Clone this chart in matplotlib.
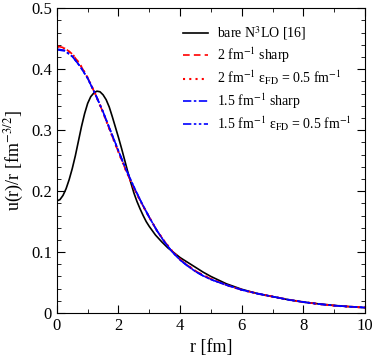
import numpy as np
import matplotlib
matplotlib.use("Agg")
import matplotlib.pyplot as plt

plt.rcParams['font.family'] = ['Liberation Serif', 'DejaVu Serif']
plt.rcParams['mathtext.fontset'] = 'stix'

# Werte
r_bare = [0, 0.1, 0.2, 0.3, 0.4, 0.5, 0.6, 0.7, 0.8, 0.9, 1.0, 1.1, 1.2, 1.3, 1.4,
          1.5, 1.6, 1.7, 1.8, 1.9, 2.0, 2.1, 2.2, 2.3, 2.4, 2.5, 2.6, 2.7, 2.8, 2.9,
          3.0, 3.2, 3.4, 3.6, 3.8, 4.0, 4.25, 4.5, 4.75, 5.0, 5.5, 6.0, 6.5, 7.0,
          7.5, 8.0, 8.5, 9.0, 9.5, 10.0]
u_bare = [0.184, 0.186, 0.193, 0.204, 0.219, 0.237, 0.258, 0.282, 0.306, 0.327,
          0.344, 0.355, 0.361, 0.364, 0.363, 0.358, 0.350, 0.338, 0.322, 0.305,
          0.288, 0.270, 0.251, 0.232, 0.214, 0.197, 0.183, 0.171, 0.160, 0.150,
          0.142, 0.128, 0.117, 0.107, 0.099, 0.091, 0.083, 0.075, 0.067, 0.060,
          0.048, 0.039, 0.032, 0.027, 0.022, 0.018, 0.015, 0.0125, 0.0105, 0.0088]

r_lam = [0, 0.25, 0.5, 0.75, 1.0, 1.25, 1.5, 1.75, 2.0, 2.25, 2.5, 2.75, 3.0, 3.25,
         3.5, 3.75, 4.0, 4.25, 4.5, 4.75, 5.0, 5.5, 6.0, 6.5, 7.0, 7.5, 8.0, 8.5,
         9.0, 9.5, 10.0]
u_2_sharp = [0.438, 0.435, 0.425, 0.408, 0.386, 0.359, 0.329, 0.296, 0.264, 0.233,
             0.205, 0.180, 0.157, 0.135, 0.117, 0.101, 0.088, 0.078, 0.069, 0.062,
             0.056, 0.046, 0.038, 0.032, 0.027, 0.022, 0.018, 0.0148, 0.0122,
             0.0105, 0.009]
u_2_fd = [0.437, 0.434, 0.425, 0.408, 0.386, 0.359, 0.329, 0.296, 0.264, 0.233,
          0.205, 0.180, 0.157, 0.135, 0.117, 0.101, 0.088, 0.078, 0.069, 0.062,
          0.056, 0.046, 0.038, 0.032, 0.027, 0.022, 0.018, 0.0148, 0.0122,
          0.0105, 0.009]
u_15_sharp = [0.433, 0.431, 0.421, 0.405, 0.385, 0.359, 0.330, 0.298, 0.266, 0.235,
              0.207, 0.181, 0.157, 0.135, 0.116, 0.100, 0.087, 0.077, 0.068, 0.061,
              0.055, 0.046, 0.038, 0.032, 0.027, 0.022, 0.018, 0.0148, 0.0122,
              0.0105, 0.009]
u_15_fd = [0.432, 0.430, 0.421, 0.405, 0.385, 0.359, 0.330, 0.298, 0.266, 0.235,
           0.207, 0.181, 0.157, 0.135, 0.116, 0.100, 0.087, 0.077, 0.068, 0.061,
           0.055, 0.046, 0.038, 0.032, 0.027, 0.022, 0.018, 0.0148, 0.0122,
           0.0105, 0.009]

fig = plt.figure(figsize=(3.74, 3.59), dpi=100)
ax = fig.add_axes([0.152, 0.128, 0.824, 0.849])

ax.plot(r_bare, u_bare, color='black', lw=1.2, label=r'bare N$^3$LO [16]')
ax.plot(r_lam, u_2_sharp, color='red', lw=1.2, ls=(0, (4, 2.5)),
        label=r'2 fm$^{-1}$ sharp')
ax.plot(r_lam, u_2_fd, color='red', lw=1.5, ls=(0, (1, 2)),
        label=r'2 fm$^{-1}$ ε$_{\rm FD}$ = 0.5 fm$^{-1}$')
ax.plot(r_lam, u_15_sharp, color='blue', lw=1.2, ls=(0, (5, 1.5, 1.5, 1.5)),
        label=r'1.5 fm$^{-1}$ sharp')
ax.plot(r_lam, u_15_fd, color='blue', lw=1.2, ls=(0, (5, 1.5, 1.5, 1.5, 1.5, 1.5)),
        label=r'1.5 fm$^{-1}$ ε$_{\rm FD}$ = 0.5 fm$^{-1}$')

ax.set_xlim(0, 10)
ax.set_ylim(0, 0.5)
ax.set_xticks([0, 2, 4, 6, 8, 10])
ax.set_xticks(np.arange(0, 10.1, 1), minor=True)
ax.set_yticks([0, 0.1, 0.2, 0.3, 0.4, 0.5])
ax.set_yticks(np.arange(0, 0.501, 0.02), minor=True)
ax.set_yticklabels(['0', '0.1', '0.2', '0.3', '0.4', '0.5'])
ax.tick_params(which='both', direction='in', top=True, right=True, labelsize=12)
ax.tick_params(which='major', length=6)
ax.tick_params(which='minor', length=3)

ax.set_xlabel('r [fm]', fontsize=13)
ax.set_ylabel(r'u(r)/r [fm$^{-3/2}$]', fontsize=13)

ax.legend(loc='upper left', frameon=False, fontsize=10, handlelength=1.8,
          handletextpad=0.65, labelspacing=0.28, borderpad=0, borderaxespad=0,
          bbox_to_anchor=(0.41, 0.948))

fig.savefig('out.png', dpi=100)
